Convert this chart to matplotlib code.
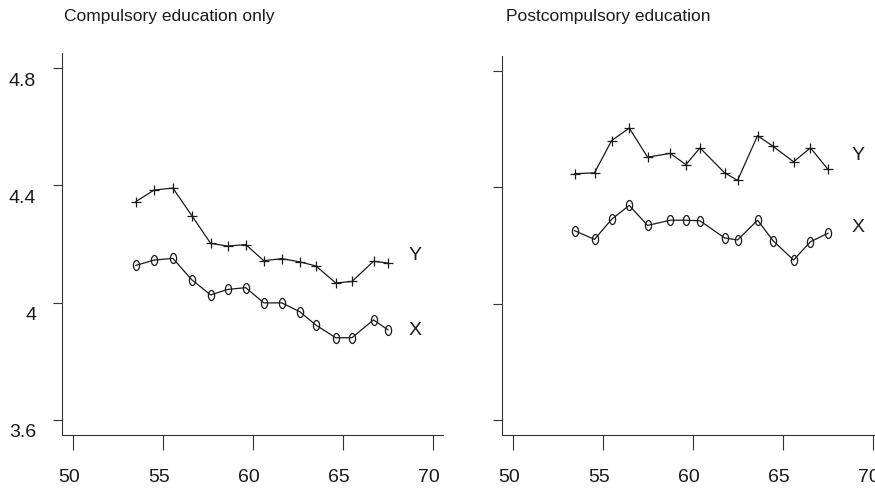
import numpy as np
import matplotlib
matplotlib.use("Agg")
import matplotlib.pyplot as plt
from matplotlib.path import Path
from matplotlib.transforms import Affine2D, ScaledTranslation

plt.rcParams['font.family'] = ['Liberation Sans', 'DejaVu Sans']

# cohort (birth year) on the x axis, log values on the y axis
titles = ["Compulsory education only", "Postcompulsory education"]

left_age = [53.5, 54.5, 55.55, 56.6, 57.65, 58.6, 59.6, 60.6, 61.6, 62.6, 63.5, 64.6, 65.5, 66.7, 67.5]
left_Y = [4.345, 4.384, 4.391, 4.297, 4.202, 4.193, 4.198, 4.143, 4.150, 4.139, 4.125, 4.067, 4.072, 4.141, 4.135]
left_X = [4.127, 4.145, 4.151, 4.078, 4.026, 4.045, 4.051, 3.999, 3.999, 3.969, 3.923, 3.880, 3.880, 3.941, 3.907]

right_age = [53.42, 54.53, 55.48, 56.46, 57.48, 58.74, 59.61, 60.39, 61.76, 62.48, 63.59, 64.46, 65.59, 66.53, 67.5]
right_Y = [4.447, 4.450, 4.561, 4.604, 4.504, 4.517, 4.478, 4.536, 4.450, 4.424, 4.578, 4.541, 4.488, 4.536, 4.462]
right_X = [4.251, 4.221, 4.290, 4.338, 4.269, 4.287, 4.287, 4.285, 4.226, 4.219, 4.287, 4.216, 4.150, 4.213, 4.242]

# where the "Y" / "X" tags sit
tag_x = [69.0, 69.2]
left_tags = [4.161, 3.904]
right_tags = [4.509, 4.263]

xticks = [50, 55, 60, 65, 70]
yticks = [3.6, 4.0, 4.4, 4.8]
ytick_labels = ["3.6", "4", "4.4", "4.8"]

# tall open ellipse, like the "0" plotting symbol
oval = Path(Affine2D().scale(0.62, 1.0).transform(Path.unit_circle().vertices),
            Path.unit_circle().codes)

W, H = 875, 490
fig = plt.figure(figsize=(W / 100, H / 100), dpi=100)
ax1 = fig.add_axes([62 / W, 55 / H, 381 / W, 382 / H])
ax2 = fig.add_axes([502 / W, 55 / H, 381 / W, 379 / H])

ink = "#1a1a1a"
panels = [(ax1, left_age, left_Y, left_X, left_tags, True),
          (ax2, right_age, right_Y, right_X, right_tags, False)]

for i, (ax, age, ys, xs, tags, show_y) in enumerate(panels):
    ax.plot(age, ys, color=ink, lw=0.9, marker='+', ms=6.5, mew=0.9)
    ax.plot(age, xs, color=ink, lw=0.9, marker=oval, ms=7.2, mew=0.9,
            mfc='none', mec=ink)
    ax.text(tag_x[i], tags[0], "Y", fontsize=14, ha='center', va='center', color=ink)
    ax.text(tag_x[i], tags[1], "X", fontsize=14, ha='center', va='center', color=ink)

    ax.set_xlim(49.39, 70.56)
    ax.set_ylim(3.548, 4.852)
    for s in ['top', 'right']:
        ax.spines[s].set_visible(False)
    for s in ['left', 'bottom']:
        ax.spines[s].set_linewidth(0.8)
        ax.spines[s].set_color("#333333")

    ax.set_xticks(xticks)
    ax.set_yticks(yticks)
    ax.set_xticklabels([])
    ax.set_yticklabels([])
    ax.tick_params(axis='x', length=11, width=0.8, color="#333333")
    ax.tick_params(axis='y', length=6.5, width=0.8, color="#333333")

    xoff = ax.get_xaxis_transform() + ScaledTranslation(-0.04, -0.42, fig.dpi_scale_trans)
    for t in xticks:
        ax.text(t, 0, str(t), transform=xoff, fontsize=14, ha='center', va='center',
                color=ink, clip_on=False)
    if show_y:
        yoff = ax.get_yaxis_transform() + ScaledTranslation(-0.26, -0.13, fig.dpi_scale_trans)
        for t, lab in zip(yticks, ytick_labels):
            ax.text(0, t, lab, transform=yoff, fontsize=14, ha='right', va='center',
                    color=ink, clip_on=False)

fig.text(64 / W, 1 - 21 / H, titles[0], fontsize=12.5, ha='left', va='baseline', color=ink)
fig.text(506 / W, 1 - 21 / H, titles[1], fontsize=12.5, ha='left', va='baseline', color=ink)

fig.savefig("out.png", dpi=100)
